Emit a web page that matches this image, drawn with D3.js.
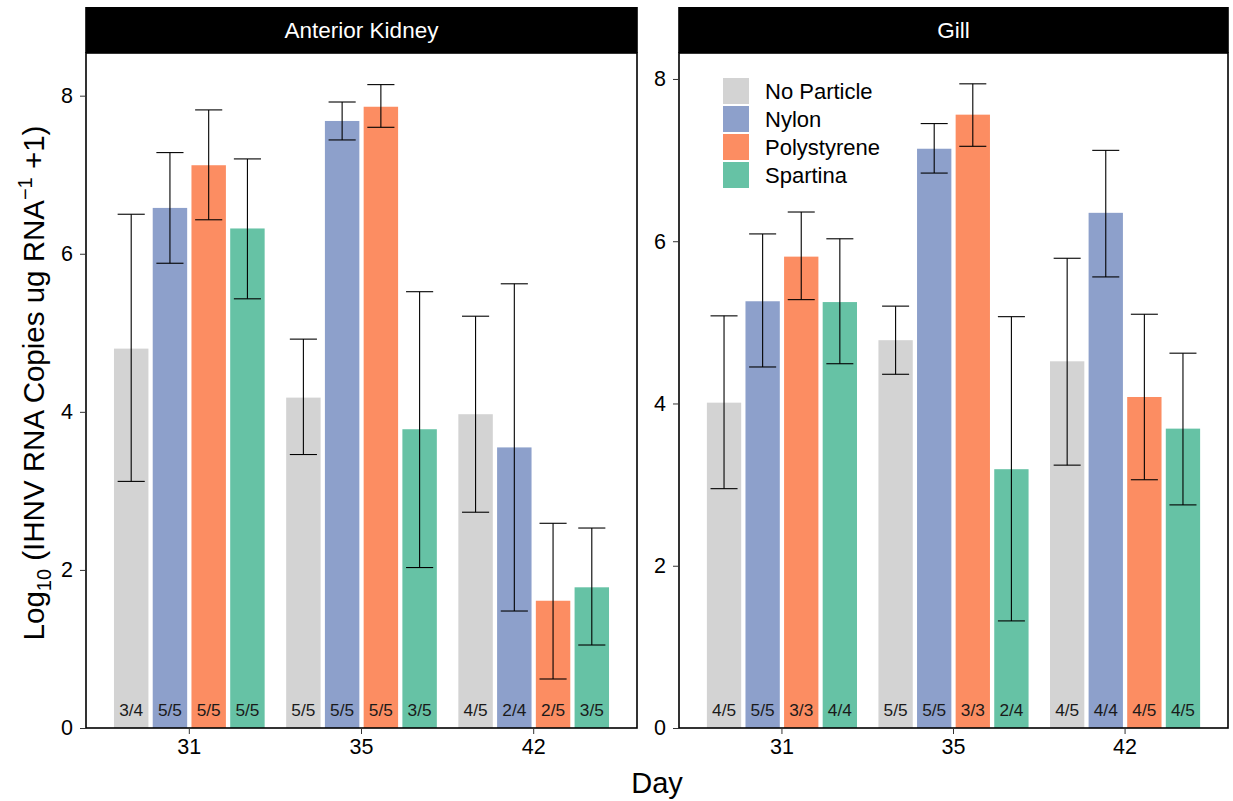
<!DOCTYPE html>
<html>
<head>
<meta charset="utf-8">
<script src="https://cdn.jsdelivr.net/npm/d3@7"></script>
<style>
  body { margin: 0; background: #fff; }
  text { font-family: "Liberation Sans", Arial, Helvetica, sans-serif; }
</style>
</head>
<body>
<div id="chart"></div>
<script>
// data
var days = ["31", "35", "42"];
var treatments = ["No Particle", "Nylon", "Polystyrene", "Spartina"];
var colors = ["#d3d3d3", "#8da0cb", "#fc8d62", "#66c2a5"];
var tissues = ["Anterior Kidney", "Gill"];

// mean per day (rows) x treatment (cols)
var kidneyMean = [[4.80, 6.58, 7.12, 6.32], [4.18, 7.68, 7.86, 3.78], [3.97, 3.55, 1.61, 1.78]];
var kidneyLow  = [[3.12, 5.88, 6.43, 5.43], [3.46, 7.44, 7.60, 2.03], [2.73, 1.48, 0.62, 1.05]];
var kidneyHigh = [[6.50, 7.28, 7.82, 7.20], [4.92, 7.92, 8.14, 5.52], [5.21, 5.62, 2.59, 2.53]];
var kidneyN = [["3/4", "5/5", "5/5", "5/5"], ["5/5", "5/5", "5/5", "3/5"], ["4/5", "2/4", "2/5", "3/5"]];

var gillMean = [[4.01, 5.26, 5.81, 5.25], [4.78, 7.14, 7.56, 3.19], [4.52, 6.35, 4.08, 3.69]];
var gillLow  = [[2.95, 4.45, 5.28, 4.49], [4.36, 6.84, 7.17, 1.32], [3.24, 5.56, 3.06, 2.75]];
var gillHigh = [[5.08, 6.09, 6.36, 6.03], [5.20, 7.45, 7.94, 5.07], [5.79, 7.12, 5.10, 4.62]];
var gillN = [["4/5", "5/5", "3/3", "4/4"], ["5/5", "5/5", "3/3", "2/4"], ["4/5", "4/4", "4/5", "4/5"]];

var yTicks = [0, 2, 4, 6, 8];

var W = 1233, H = 801;
var plotTop = 53, plotBottom = 728, stripTop = 7;
var panels = [
  {name: tissues[0], x0: 86, x1: 637, yMax: 8.54, mean: kidneyMean, low: kidneyLow, high: kidneyHigh, n: kidneyN},
  {name: tissues[1], x0: 679, x1: 1228, yMax: 8.32, mean: gillMean, low: gillLow, high: gillHigh, n: gillN}
];

var svg = d3.select("#chart").append("svg")
    .attr("width", W)
    .attr("height", H);

var color = d3.scaleOrdinal().domain(treatments).range(colors);

panels.forEach(function(p) {
  var x = d3.scaleBand().domain(days).range([p.x0, p.x1])
      .paddingInner(0.1).paddingOuter(0.15);
  var xs = d3.scaleBand().domain(treatments).range([0, x.bandwidth()]);
  var y = d3.scaleLinear().domain([0, p.yMax]).range([plotBottom, plotTop]);
  var bw = xs.bandwidth() * 0.889;
  var cap = xs.bandwidth() * 0.7;

  var g = svg.append("g");

  var rows = [];
  days.forEach(function(d, i) {
    treatments.forEach(function(t, j) {
      rows.push({day: d, trt: t, mean: p.mean[i][j], low: p.low[i][j], high: p.high[i][j], n: p.n[i][j]});
    });
  });

  function cx(d) { return x(d.day) + xs(d.trt) + xs.bandwidth() / 2; }

  g.selectAll("rect.bar").data(rows).enter().append("rect")
      .attr("class", "bar")
      .attr("x", function(d) { return cx(d) - bw / 2; })
      .attr("width", bw)
      .attr("y", function(d) { return y(d.mean); })
      .attr("height", function(d) { return y(0) - y(d.mean); })
      .attr("fill", function(d) { return color(d.trt); });

  var eb = g.selectAll("g.err").data(rows).enter().append("g")
      .attr("stroke", "#000")
      .attr("stroke-width", 1.1);
  eb.append("line")
      .attr("x1", cx).attr("x2", cx)
      .attr("y1", function(d) { return y(d.low); })
      .attr("y2", function(d) { return y(d.high); });
  eb.append("line")
      .attr("x1", function(d) { return cx(d) - cap / 2; })
      .attr("x2", function(d) { return cx(d) + cap / 2; })
      .attr("y1", function(d) { return y(d.high); })
      .attr("y2", function(d) { return y(d.high); });
  eb.append("line")
      .attr("x1", function(d) { return cx(d) - cap / 2; })
      .attr("x2", function(d) { return cx(d) + cap / 2; })
      .attr("y1", function(d) { return y(d.low); })
      .attr("y2", function(d) { return y(d.low); });

  g.selectAll("text.n").data(rows).enter().append("text")
      .attr("x", cx)
      .attr("y", 716)
      .attr("text-anchor", "middle")
      .attr("font-size", 17.3)
      .attr("fill", "#1a1a1a")
      .text(function(d) { return d.n; });

  // panel border
  g.append("rect")
      .attr("x", p.x0).attr("y", plotTop)
      .attr("width", p.x1 - p.x0).attr("height", plotBottom - plotTop)
      .attr("fill", "none").attr("stroke", "#000").attr("stroke-width", 1.6);

  // strip
  g.append("rect")
      .attr("x", p.x0 - 0.8).attr("y", stripTop)
      .attr("width", p.x1 - p.x0 + 1.6).attr("height", plotTop - stripTop)
      .attr("fill", "#000");
  g.append("text")
      .attr("x", (p.x0 + p.x1) / 2).attr("y", 38)
      .attr("text-anchor", "middle")
      .attr("font-size", 22.5)
      .attr("fill", "#fff")
      .text(p.name);

  var yAxis = svg.append("g")
      .attr("transform", "translate(" + p.x0 + ",0)")
      .call(d3.axisLeft(y).tickValues(yTicks).tickSize(6).tickPadding(7).tickFormat(d3.format("d")));
  yAxis.select(".domain").remove();
  yAxis.selectAll(".tick line").attr("stroke", "#333");
  yAxis.selectAll(".tick text").attr("font-size", 21.5).attr("fill", "#000")
      .style("font-family", "'Liberation Sans', Arial, sans-serif");

  var xAxis = svg.append("g")
      .attr("transform", "translate(0," + plotBottom + ")")
      .call(d3.axisBottom(x).tickSize(6).tickPadding(5));
  xAxis.select(".domain").remove();
  xAxis.selectAll(".tick line").attr("stroke", "#333");
  xAxis.selectAll(".tick text").attr("font-size", 21.5).attr("fill", "#000")
      .style("font-family", "'Liberation Sans', Arial, sans-serif");
});

// legend in the Gill panel
var legend = svg.append("g").attr("transform", "translate(723,78)");
treatments.forEach(function(t, i) {
  legend.append("rect")
      .attr("x", 0).attr("y", i * 28)
      .attr("width", 26).attr("height", 26)
      .attr("fill", color(t));
  legend.append("text")
      .attr("x", 42).attr("y", i * 28 + 21)
      .attr("font-size", 22)
      .attr("fill", "#000")
      .text(t);
});

// axis titles
svg.append("text")
    .attr("x", 657).attr("y", 793)
    .attr("text-anchor", "middle")
    .attr("font-size", 29)
    .text("Day");

var yt = svg.append("text")
    .attr("transform", "translate(44," + 383 + ") rotate(-90)")
    .attr("text-anchor", "middle")
    .attr("font-size", 29.5);
yt.append("tspan").text("Log");
yt.append("tspan").attr("font-size", 20).attr("dy", 7).text("10");
yt.append("tspan").attr("dy", -7).text(" (IHNV RNA Copies ug RNA");
yt.append("tspan").attr("font-size", 20).attr("dy", -12).text("\u22121");
yt.append("tspan").attr("dy", 12).text(" +1)");
</script>
</body>
</html>
